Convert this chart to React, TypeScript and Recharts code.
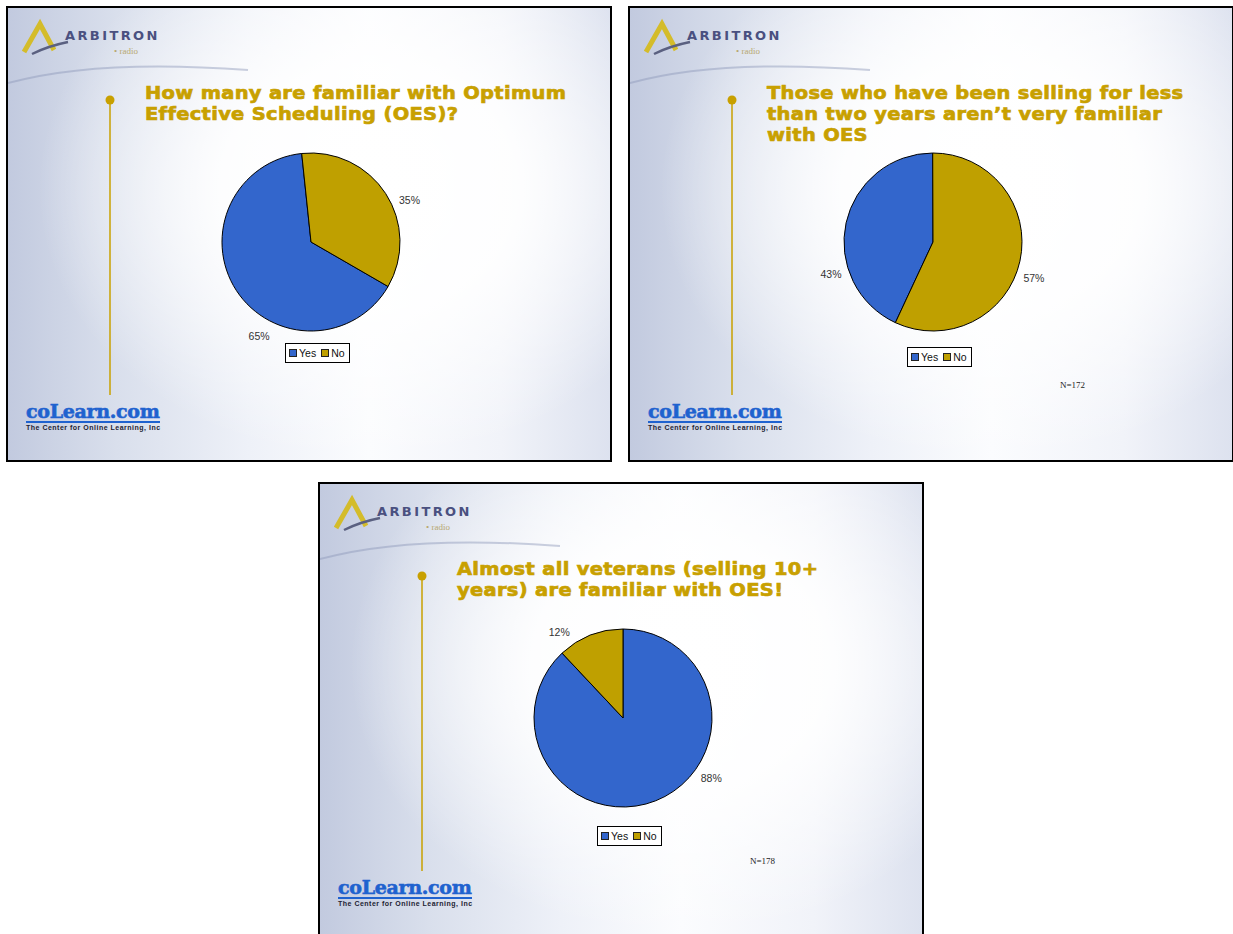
import { PieChart, Pie, Cell, Legend } from 'recharts'

const CATEGORIES = ['Yes', 'No']
const ALL_SELLERS = [65, 35]
const NEW_SELLERS = [43, 57]
const VETERANS = [88, 12]

const TITLE_ALL = ['How many are familiar with Optimum', 'Effective Scheduling (OES)?']
const TITLE_NEW = ['Those who have been selling for less', 'than two years aren\u2019t very familiar', 'with OES']
const TITLE_VET = ['Almost all veterans (selling 10+', 'years) are familiar with OES!']

const COLORS = ['#3366CC', '#BFA000']
const GOLD = '#C8A000'
const RAD = Math.PI / 180

type Row = { name: string; value: number }

function toRows(values: number[]): Row[] {
  return CATEGORIES.map((name, i) => ({ name, value: values[i] }))
}

// Excel put the labels a bit off the slice middle, so nudge them per slice
function makeLabel(nudge: number[]) {
  return (props: any) => {
    const { cx, cy, outerRadius, midAngle, index, value } = props
    const a = (midAngle + nudge[index]) * RAD
    const r = outerRadius + 18
    return (
      <text
        x={cx + r * Math.cos(a)}
        y={cy - r * Math.sin(a)}
        textAnchor="middle"
        dominantBaseline="central"
        fontSize={10.5}
        fontFamily="'Liberation Sans', Arial, sans-serif"
        fill="#333"
      >
        {value}%
      </text>
    )
  }
}

function LegendBox() {
  return (
    <div
      style={{
        display: 'flex',
        alignItems: 'center',
        gap: 5,
        border: '1px solid #000',
        background: '#fff',
        padding: '2px 4px 2px 3px',
        fontFamily: "'Liberation Sans', Arial, sans-serif",
        fontSize: 10.5,
        color: '#111',
        lineHeight: '14px',
      }}
    >
      {CATEGORIES.map((c, i) => (
        <span key={c} style={{ display: 'flex', alignItems: 'center', gap: 2 }}>
          <span style={{ width: 6, height: 6, background: COLORS[i], border: '1px solid #222' }} />
          {c}
        </span>
      ))}
    </div>
  )
}

function ArbitronLogo() {
  return (
    <div style={{ position: 'absolute', left: 10, top: 10 }}>
      <svg width={60} height={42} style={{ position: 'absolute', left: 0, top: 0 }}>
        <path d="M6 34 L22 6 L36 32" fill="none" stroke="#D4BC2A" strokeWidth={5} strokeLinejoin="miter" />
        <path d="M14 36 Q30 28 50 24" fill="none" stroke="#5a6080" strokeWidth={2.5} />
      </svg>
      <div
        style={{
          position: 'absolute',
          left: 47,
          top: 10,
          fontFamily: "'DejaVu Sans', sans-serif",
          fontWeight: 600,
          fontSize: 13,
          letterSpacing: 2.4,
          color: '#4a5080',
        }}
      >
        ARBITRON
      </div>
      <div
        style={{
          position: 'absolute',
          left: 96,
          top: 28,
          fontFamily: "'Liberation Serif', serif",
          fontSize: 9,
          color: '#b8a870',
          whiteSpace: 'nowrap',
        }}
      >
        • radio
      </div>
    </div>
  )
}

function CoLearnLogo() {
  return (
    <div style={{ position: 'absolute', left: 18, top: 393 }}>
      <div
        style={{
          fontFamily: "'DejaVu Serif', serif",
          fontWeight: 700,
          fontSize: 19,
          color: '#1f62cf',
          letterSpacing: -0.3,
          WebkitTextStroke: '0.6px #1f62cf',
          borderBottom: '2.5px solid #1f62cf',
          lineHeight: '20px',
          width: 134,
        }}
      >
        coLearn.com
      </div>
      <div
        style={{
          fontFamily: "'Liberation Sans', Arial, sans-serif",
          fontWeight: 700,
          fontSize: 7,
          letterSpacing: 0.5,
          color: '#223',
          whiteSpace: 'nowrap',
          marginTop: 1,
        }}
      >
        The Center for Online Learning, Inc
      </div>
    </div>
  )
}

interface SlideProps {
  left: number
  top: number
  values: number[]
  title: string[]
  startAngle: number
  nudge: number[]
  legendTop: number
  note?: string
}

function Slide({ left, top, values, title, startAngle, nudge, legendTop, note }: SlideProps) {
  return (
    <div
      style={{
        position: 'absolute',
        left,
        top,
        width: 606,
        height: 456,
        boxSizing: 'border-box',
        border: '2px solid #000',
        overflow: 'hidden',
        background:
          'radial-gradient(ellipse 55% 60% at 60% 40%, rgba(255,255,255,1) 0%, rgba(255,255,255,0.9) 45%, rgba(255,255,255,0) 100%),' +
          'linear-gradient(90deg, #c2cadf 0%, #d9dfec 18%, #eef1f8 40%, #fbfcfe 60%, #f1f3f9 82%, #dde2ef 100%)',
      }}
    >
      <svg width={602} height={452} style={{ position: 'absolute', left: 0, top: 0 }}>
        <path d="M-10 78 Q80 50 240 62" fill="none" stroke="rgba(140,150,185,0.45)" strokeWidth={2} />
        <line x1={102} y1={92} x2={102} y2={387} stroke={GOLD} strokeWidth={1.5} />
        <circle cx={102} cy={92} r={4.5} fill={GOLD} />
      </svg>
      <ArbitronLogo />
      <div
        style={{
          position: 'absolute',
          left: 137,
          top: 74,
          fontFamily: "'DejaVu Sans', sans-serif",
          fontWeight: 700,
          fontSize: 18,
          lineHeight: '21px',
          letterSpacing: 0.3,
          WebkitTextStroke: '0.7px ' + GOLD,
          color: GOLD,
          whiteSpace: 'nowrap',
          transform: 'scaleX(1.08)',
          transformOrigin: 'left top',
        }}
      >
        {title.map((t) => (
          <div key={t}>{t}</div>
        ))}
      </div>
      <div style={{ position: 'absolute', left: 0, top: 0 }}>
        <PieChart width={602} height={452} margin={{ top: 0, right: 0, bottom: 0, left: 0 }}>
          <Pie
            data={toRows(values)}
            dataKey="value"
            nameKey="name"
            cx={303}
            cy={234}
            outerRadius={89}
            startAngle={startAngle}
            endAngle={startAngle - 360}
            stroke="#000"
            strokeWidth={1}
            label={makeLabel(nudge)}
            labelLine={false}
            isAnimationActive={false}
          >
            {CATEGORIES.map((c, i) => (
              <Cell key={c} fill={COLORS[i]} />
            ))}
          </Pie>
          <Legend
            verticalAlign="middle"
            align="center"
            content={() => <LegendBox />}
            wrapperStyle={{ left: 277, top: legendTop, width: 'auto' }}
          />
        </PieChart>
      </div>
      {note && (
        <div
          style={{
            position: 'absolute',
            left: 430,
            top: 372,
            fontFamily: "'Liberation Serif', serif",
            fontSize: 9,
            color: '#222',
          }}
        >
          {note}
        </div>
      )}
      <CoLearnLogo />
    </div>
  )
}

export default function App() {
  return (
    <div
      style={{
        position: 'absolute',
        left: 0,
        top: 0,
        width: 1233,
        height: 934,
        overflow: 'hidden',
        background: '#fff',
      }}
    >
      <Slide left={6} top={6} values={ALL_SELLERS} title={TITLE_ALL} startAngle={-30} nudge={[28, -10]} legendTop={335} />
      <Slide
        left={628}
        top={6}
        values={NEW_SELLERS}
        title={TITLE_NEW}
        startAngle={-115}
        nudge={[30, -7]}
        legendTop={339}
        note="N=172"
      />
      <Slide
        left={318}
        top={482}
        values={VETERANS}
        title={TITLE_VET}
        startAngle={90}
        nudge={[34, 15]}
        legendTop={342}
        note="N=178"
      />
    </div>
  )
}
